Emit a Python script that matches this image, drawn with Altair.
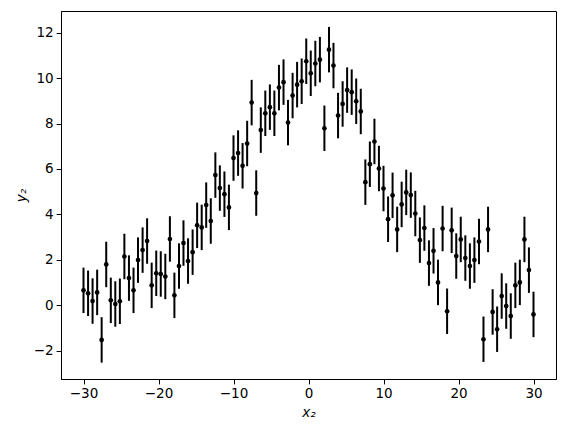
import altair as alt
import pandas as pd

x_vals = [-30.00, -29.39, -28.79, -28.18, -27.58, -26.97, -26.36, -25.76, -25.15, -24.55,
          -23.94, -23.33, -22.73, -22.12, -21.52, -20.91, -20.30, -19.70, -19.09, -18.48,
          -17.88, -17.27, -16.67, -16.06, -15.45, -14.85, -14.24, -13.64, -13.03, -12.42,
          -11.82, -11.21, -10.61, -10.00, -9.39, -8.79, -8.18, -7.58, -6.97, -6.36,
          -5.76, -5.15, -4.55, -3.94, -3.33, -2.73, -2.12, -1.52, -0.91, -0.30,
          0.30, 0.91, 1.52, 2.12, 2.73, 3.33, 3.94, 4.55, 5.15, 5.76,
          6.36, 6.97, 7.58, 8.18, 8.79, 9.39, 10.00, 10.61, 11.21, 11.82,
          12.42, 13.03, 13.64, 14.24, 14.85, 15.45, 16.06, 16.67, 17.27, 17.88,
          18.48, 19.09, 19.70, 20.30, 20.91, 21.52, 22.12, 22.73, 23.33, 23.94,
          24.55, 25.15, 25.76, 26.36, 26.97, 27.58, 28.18, 28.79, 29.39, 30.00]

y_vals = [0.66, 0.53, 0.19, 0.57, -1.52, 1.80, 0.22, 0.06, 0.18, 2.15,
          1.20, 0.66, 1.99, 2.43, 2.83, 0.88, 1.41, 1.38, 1.27, 2.92,
          0.44, 1.73, 2.74, 1.95, 2.34, 3.52, 3.43, 4.41, 3.71, 5.73,
          5.16, 4.89, 4.31, 6.48, 6.70, 6.14, 7.12, 8.92, 4.94, 7.71,
          8.45, 8.72, 8.45, 9.58, 9.82, 8.04, 9.23, 9.71, 9.86, 10.74,
          10.21, 10.64, 10.81, 7.79, 11.25, 10.55, 8.35, 8.86, 9.47, 9.38,
          8.98, 8.53, 5.42, 6.21, 7.21, 6.02, 5.14, 3.79, 4.84, 3.34,
          4.44, 4.97, 4.85, 4.04, 2.87, 3.40, 1.86, 2.40, 1.01, 3.38,
          -0.26, 3.30, 2.17, 2.90, 2.08, 1.73, 1.99, 2.81, -1.49, 3.34,
          -0.29, -1.05, 0.41, -0.03, -0.47, 0.88, 1.01, 2.90, 1.55, -0.40]

y_err = 1.0

df = pd.DataFrame({"x": x_vals, "y": y_vals})

base = alt.Chart(df).transform_calculate(
    lo=f"datum.y - {y_err}", hi=f"datum.y + {y_err}"
)

x_enc = alt.X("x:Q",
              scale=alt.Scale(domain=[-33, 33], nice=False, zero=False),
              axis=alt.Axis(values=[-30, -20, -10, 0, 10, 20, 30], title="x₂"))
y_scale = alt.Scale(domain=[-3.24, 12.95], nice=False, zero=False)
y_axis = alt.Axis(values=[-2, 0, 2, 4, 6, 8, 10, 12], title="y₂")

rules = base.mark_rule(color="black", strokeWidth=2).encode(
    x=x_enc,
    y=alt.Y("lo:Q", scale=y_scale, axis=y_axis),
    y2="hi:Q",
)
points = base.mark_circle(color="black", opacity=1, size=22).encode(
    x=x_enc,
    y=alt.Y("y:Q", scale=y_scale, axis=y_axis),
)

chart = alt.layer(rules, points).properties(
    width=495, height=368,
    autosize=alt.AutoSizeParams(type="none"),
    padding={"left": 53, "top": 3, "right": 2, "bottom": 50},
).configure_view(
    stroke="black", strokeWidth=1
).configure_axis(
    grid=False,
    domainColor="black", domainWidth=1,
    tickColor="black", tickWidth=1, tickSize=4.9,
    labelFont="DejaVu Sans", labelFontSize=13.5, labelColor="black", labelPadding=3,
    titleFont="DejaVu Sans", titleFontSize=13.5, titleColor="black",
    titleFontWeight="normal", titleFontStyle="italic", titlePadding=5,
)

chart.save("out.html", embed_options={"renderer": "svg", "actions": False})
